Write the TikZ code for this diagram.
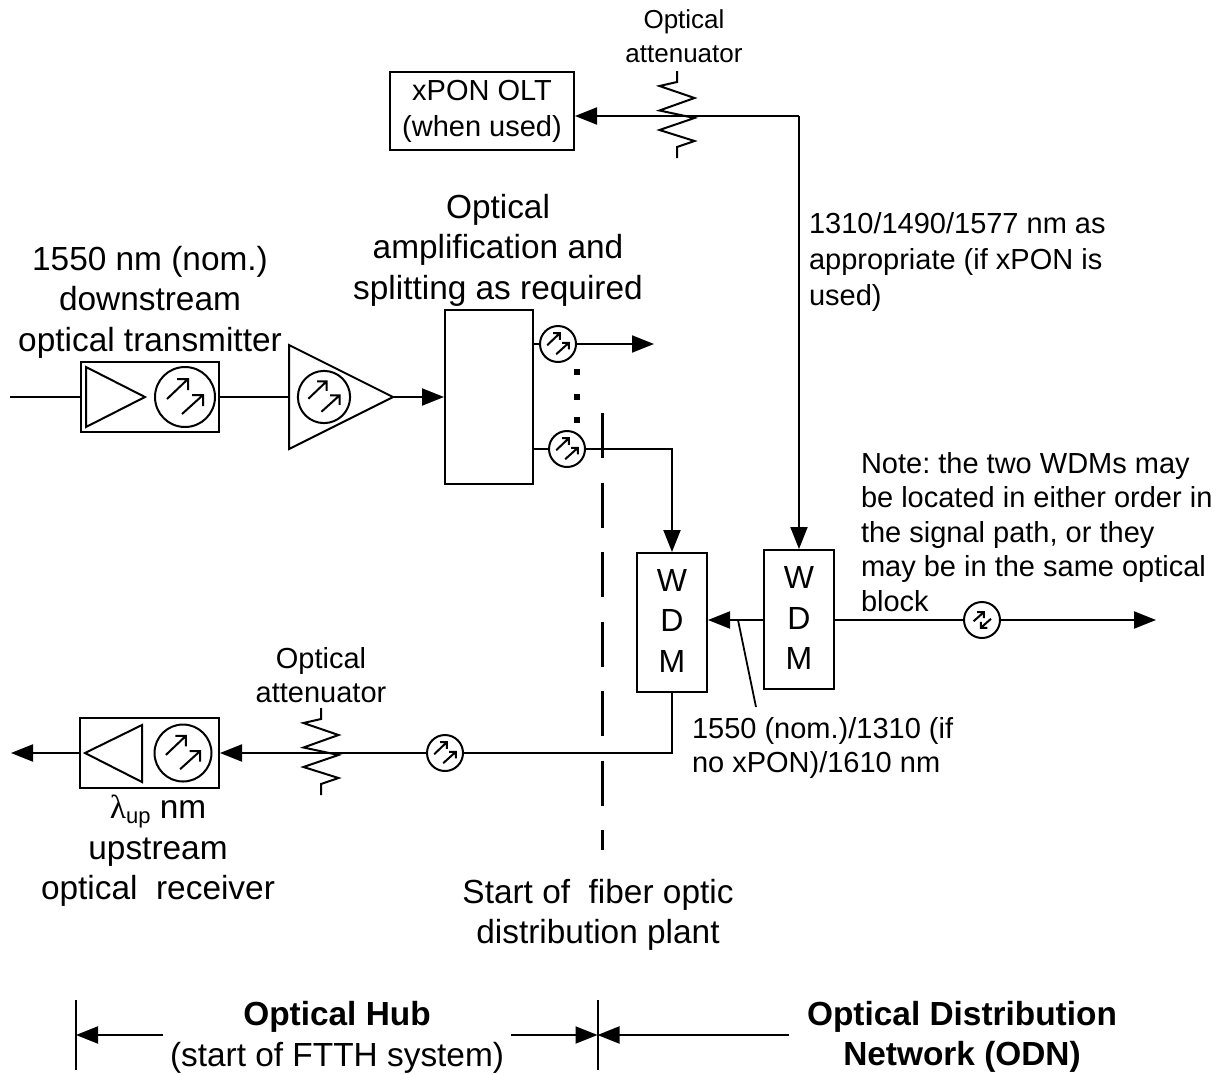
\documentclass[tikz,border=0pt]{standalone}
\usepackage{fontspec}
\setmainfont{Liberation Sans}
\newfontfamily\grk{Liberation Serif}
\usetikzlibrary{arrows.meta}
\frenchspacing
\newcommand{\bigf}{\fontsize{33.4}{40.5}\selectfont}
\newcommand{\midf}{\fontsize{29}{34.5}\selectfont}
\newcommand{\oltf}{\fontsize{29}{36}\selectfont}
\newcommand{\smlf}{\fontsize{26}{34}\selectfont}
\newcommand{\lowf}{\fontsize{29}{34}\selectfont}
\newcommand{\wdmf}{\fontsize{32}{40.5}\selectfont}
\tikzset{
  every path/.style={line width=2pt},
  tip/.style={-{Triangle[length=22pt,width=17pt]}},
  box/.style={draw,inner sep=0pt,line width=2pt},
  txt/.style={inner sep=0pt,align=center,anchor=north},
  ltxt/.style={inner sep=0pt,align=left,anchor=north west},
  dotsq/.style={fill=black,minimum size=6pt,inner sep=0pt},
  upcirc/.style={circle,draw,line width=2pt,inner sep=0pt,minimum size=#1*60pt,
    path picture={
      \begin{scope}[shift={(path picture bounding box.center)},line width=1.8pt,x=#1pt,y=-#1pt]
        \draw (-18,2) -- (3,-18) (-8,-18) -- (3,-18) -- (3,-7);
        \draw (-3,17) -- (18,-2) (7,-2) -- (18,-2) -- (18,9);
      \end{scope}}},
  bicirc/.style={circle,draw,line width=2pt,inner sep=0pt,minimum size=#1*60pt,
    path picture={
      \begin{scope}[shift={(path picture bounding box.center)},line width=1.8pt,x=#1pt,y=-#1pt]
        \draw (-14,2) -- (3,-13) (-8,-13) -- (3,-13) -- (3,-3);
        \draw (15,-2) -- (-2,13) (9,13) -- (-2,13) -- (-2,3);
      \end{scope}}},
  atten/.pic={\draw[line width=2pt,line join=miter] (0,-45) -- (0,-34) -- (-17.5,-30) -- (17.5,-18) -- (-17.5,-5.5) -- (17.5,2) -- (-17.5,14) -- (17.5,25) -- (0,31) -- (0,42);}
}
\begin{document}
\begin{tikzpicture}[x=1pt,y=-1pt]
\useasboundingbox (0,0) rectangle (1223,1074);

% transmitter
\coordinate (txin) at (10,397);
\node[box,minimum width=138pt,minimum height=70pt] (tx) at (150,397) {};
\draw[line join=miter] (86,367) -- (86,427) -- (145,397) -- cycle;
\node[upcirc=1] (txc) at (185,397) {};
\draw (txin) -- (tx);

% amplifier
\draw (289,345) -- (289,449) -- (393,397) -- cycle;
\coordinate (ampin) at (289,397);
\coordinate (ampout) at (393,397);
\node[upcirc=0.87] (ampc) at (324,397) {};
\draw (tx) -- (ampin);

% splitter
\node[box,minimum width=88pt,minimum height=174pt] (split) at (489,397) {};
\draw[tip] (ampout) -- (split);
\node[upcirc=0.6] (c1) at (558,344) {};
\node[upcirc=0.6] (c2) at (567,449) {};
\coordinate (s1) at (533,344);
\coordinate (s2) at (533,449);
\coordinate (out1) at (654,344);
\draw (s1) -- (c1);
\draw[tip] (c1) -- (out1);
\draw (s2) -- (c2);
\node[dotsq] (d1) at (577,372) {};
\node[dotsq] (d2) at (577,397) {};
\node[dotsq] (d3) at (577,420) {};

% WDMs
\node[box,minimum width=70pt,minimum height=139pt] (w1) at (672,622.5) {};
\node[box,minimum width=70pt,minimum height=139pt] (w2) at (799,619.5) {};
\node[inner sep=0pt,align=center,font=\wdmf] (w1t) at (672,620.5) {W\\D\\M};
\node[inner sep=0pt,align=center,font=\wdmf] (w2t) at (799,618) {W\\D\\M};
\draw[tip] (c2) -| (w1.north);
\draw[tip] (w2.west |- 0,620) -- (w1.east |- 0,620);
\coordinate (lead) at (738,620);
\coordinate (leadend) at (756,707);
\draw[line width=1.8pt] (lead) -- (leadend);
\node[bicirc=0.6] (c3) at (982,620) {};
\coordinate (far) at (1156,620);
\draw (w2.east |- c3) -- (c3);
\draw[tip] (c3) -- (far);

% xPON
\node[box,minimum width=184pt,minimum height=78pt] (olt) at (482,111) {};
\node[inner sep=0pt,align=center,font=\oltf] (oltt) at (482,111) {xPON OLT\\(when used)};
\coordinate (corner) at (799,116);
\draw[tip] (corner) -- (olt.east |- corner);
\draw[tip] (corner) -- (w2.north);
\pic at (677,116) {atten};

% receiver
\node[box,minimum width=139pt,minimum height=70pt] (rx) at (149.5,753) {};
\draw[line join=miter] (142,725) -- (142,782) -- (85,753) -- cycle;
\node[upcirc=0.95] (rxc) at (183,753) {};
\coordinate (rxout) at (11,753);
\draw[tip] (rx) -- (rxout);
\node[upcirc=0.6] (c4) at (445,753) {};
\draw (w1.south) |- (c4);
\draw[tip] (c4) -- (rx);
\pic at (321,753) {atten};

% boundary dashed
\coordinate (dtop) at (602,413);
\coordinate (dbot) at (602,850);
\draw[line width=3pt,dash pattern=on 45pt off 24.5pt] (dtop) -- (dbot);

% dimension lines
\coordinate (t1a) at (76,1000); \coordinate (t1b) at (76,1070);
\coordinate (t2a) at (597.5,1000); \coordinate (t2b) at (597.5,1070);
\draw (t1a) -- (t1b);
\draw (t2a) -- (t2b);
\coordinate (h1) at (163,1035); \coordinate (h2) at (511,1035); \coordinate (h3) at (789,1035);
\draw[tip] (h1) -- (t1a |- h1);
\draw[tip] (h2) -- (t2a |- h2);
\draw[tip] (h3) -- (t2a |- h3);

% texts
\node[txt,font=\smlf] (tt1) at (684,9) {Optical\\attenuator};
\node[txt,font=\lowf] (tt2) at (321,646) {Optical\\attenuator};
\node[txt,font=\bigf] (tt3) at (498,193) {Optical\\amplification and\hspace{18pt}\\splitting as required};
\node[txt,font=\bigf] (tt4) at (150,245) {1550 nm (nom.)\\downstream\\optical transmitter};
\node[txt,font=\bigf] (tt5) at (158,794) {{\grk λ}\raisebox{-5pt}{\fontsize{22}{22}\selectfont up} nm\\upstream\\optical~~receiver};
\node[txt,font=\bigf] (tt6) at (598,878) {Start of~~fiber optic\\distribution plant};
\node[ltxt,font=\oltf] (tt7) at (808,211) {1310/1490/1577 nm as\\appropriate (if xPON is\\used)};
\node[ltxt,font=\midf] (tt8) at (860,451) {Note: the two WDMs may\\be located in either order in\\the signal path, or they\\may be in the same optical\\block};
\node[ltxt,font=\midf] (tt9) at (691,716) {1550 (nom.)/1310 (if\\no xPON)/1610 nm};
\node[txt,font=\bigf\bfseries] (tt10) at (337,1000) {Optical Hub};
\node[txt,font=\bigf] (tt11) at (337,1041.5) {(start of FTTH system)};
\node[txt,font=\bigf\bfseries] (tt12) at (962,1000) {Optical Distribution\\Network (ODN)};
\end{tikzpicture}
\end{document}
